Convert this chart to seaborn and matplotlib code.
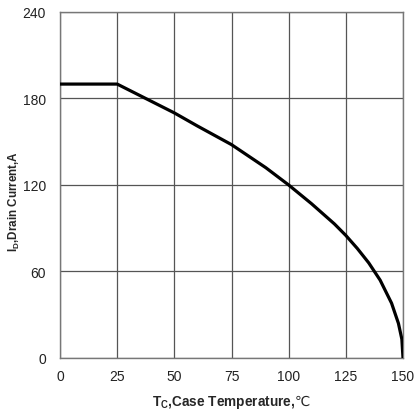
import matplotlib
matplotlib.use("Agg")
import matplotlib.pyplot as plt
import numpy as np
import pandas as pd
import seaborn as sns

case_temp = [0, 25, 40, 50, 60, 75, 90, 100, 110, 120, 125, 130, 135, 140, 145, 148, 149.5, 150]
drain_current = [190, 190, 178, 170, 161, 148, 132, 120, 107, 93, 85, 76, 66, 54, 38, 24, 13, 0]
x_ticks = [0, 25, 50, 75, 100, 125, 150]
y_ticks = [0, 60, 120, 180, 240]

sns.set_style("white")
plt.rcParams['font.family'] = ['Liberation Sans', 'DejaVu Sans']
plt.rcParams['mathtext.fontset'] = 'custom'
plt.rcParams['mathtext.rm'] = 'Liberation Sans'
plt.rcParams['mathtext.bf'] = 'Liberation Sans:bold'
plt.rcParams['mathtext.sf'] = 'Noto Sans CJK SC'

df = pd.DataFrame({'temp': case_temp, 'current': drain_current})

fig = plt.figure(figsize=(4.15, 4.14), dpi=100)
ax = fig.add_axes([0.1446, 0.1329, 0.8265, 0.8357])

sns.lineplot(data=df, x='temp', y='current', ax=ax, color='black', linewidth=2.3,
             sort=False, estimator=None, zorder=3)

ax.set_xlim(0, 150)
ax.set_ylim(0, 240)
ax.set_xticks(x_ticks)
ax.set_yticks(y_ticks)
ax.grid(True, color='#555555', linewidth=0.9)
for s in ax.spines.values():
    s.set_color('#777777')
    s.set_linewidth(1.0)
ax.tick_params(length=0, labelsize=10, colors='#222222')
ax.tick_params(axis='y', pad=10)
ax.tick_params(axis='x', pad=8)

ax.set_xlabel(r'$\mathbf{T_C}$,Case Temperature,$\mathsf{℃}$', fontsize=9.8, fontweight='bold')
ax.set_ylabel(r'$\mathbf{I_D}$,Drain Current,A', fontsize=8.4, fontweight='bold')
ax.xaxis.set_label_coords(0.5, -0.098)
ax.yaxis.set_label_coords(-0.11, 0.455)

fig.savefig('out.png', dpi=100)
